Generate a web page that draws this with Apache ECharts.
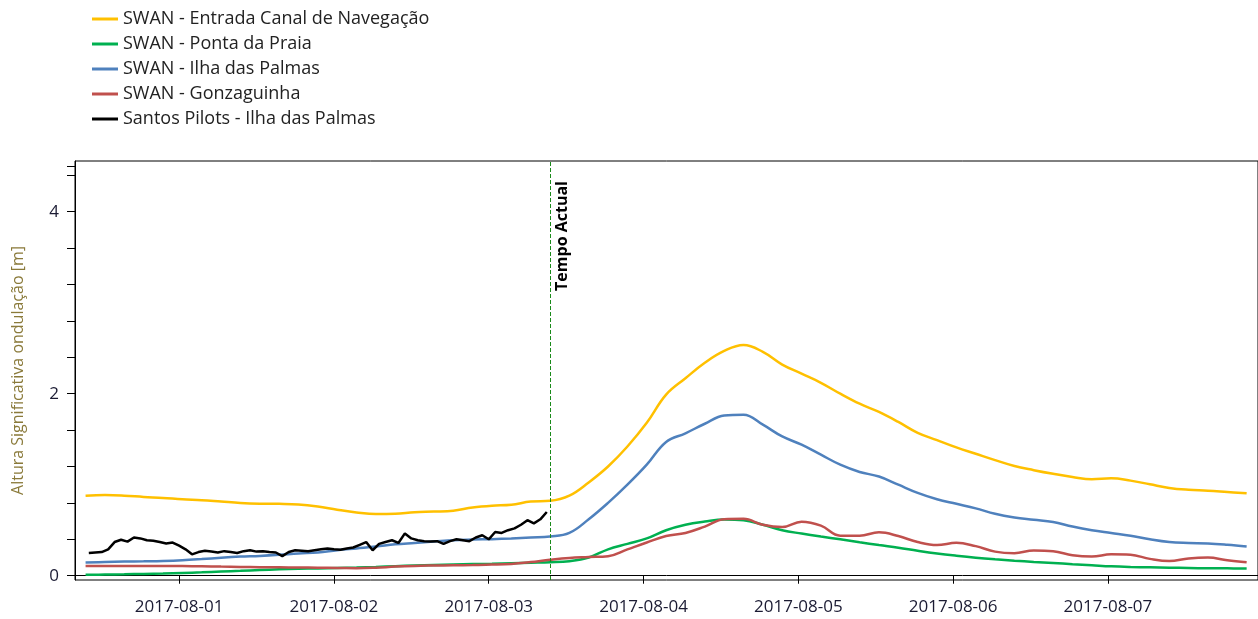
<!DOCTYPE html>
<html>
<head>
<meta charset="utf-8">
<script src="https://cdn.jsdelivr.net/npm/echarts@6/dist/echarts.min.js"></script>
<style>
html,body{margin:0;padding:0;background:#fff;}
#chart{width:1258px;height:619px;}
</style>
</head>
<body>
<div id="chart"></div>
<script>
// ---- Data ----
const seriesNames = [
  'SWAN - Entrada Canal de Navegação',
  'SWAN - Ponta da Praia',
  'SWAN - Ilha das Palmas',
  'SWAN - Gonzaguinha',
  'Santos Pilots - Ilha das Palmas'
];
// SWAN model output: every 3 hours starting 2017-07-31 09:30
const swanStart = [2017, 6, 31, 9, 30];
const swanStepHours = 3;
const entradaValues = [0.88,0.887,0.88,0.866,0.855,0.84,0.83,0.815,0.80,0.792,0.79,0.783,0.76,0.725,0.695,0.677,0.68,0.698,0.705,0.715,0.75,0.77,0.78,0.815,0.823,0.88,1.025,1.2,1.42,1.68,1.99,2.17,2.34,2.47,2.535,2.46,2.32,2.22,2.12,2.0,1.89,1.80,1.69,1.57,1.49,1.41,1.34,1.27,1.205,1.16,1.12,1.085,1.06,1.07,1.045,1.005,0.965,0.945,0.935,0.92,0.905];
const pontaValues = [0.01,0.013,0.016,0.02,0.024,0.03,0.037,0.046,0.054,0.063,0.07,0.076,0.08,0.085,0.09,0.097,0.105,0.112,0.118,0.123,0.128,0.132,0.138,0.143,0.148,0.16,0.2,0.29,0.35,0.41,0.50,0.56,0.595,0.618,0.61,0.56,0.50,0.463,0.43,0.40,0.368,0.337,0.308,0.275,0.245,0.22,0.198,0.18,0.165,0.152,0.14,0.127,0.115,0.103,0.096,0.092,0.088,0.085,0.082,0.081,0.08];
const ilhaValues = [0.145,0.15,0.155,0.158,0.162,0.17,0.183,0.198,0.21,0.218,0.23,0.245,0.255,0.28,0.30,0.32,0.345,0.36,0.375,0.39,0.397,0.402,0.41,0.42,0.43,0.47,0.62,0.80,1.0,1.22,1.47,1.565,1.67,1.76,1.77,1.66,1.53,1.44,1.33,1.22,1.14,1.09,1.0,0.91,0.84,0.79,0.74,0.68,0.64,0.615,0.59,0.54,0.50,0.47,0.44,0.40,0.37,0.36,0.355,0.34,0.32];
const gonzaValues = [0.107,0.107,0.107,0.107,0.107,0.106,0.104,0.10,0.097,0.094,0.092,0.09,0.088,0.085,0.082,0.088,0.1,0.108,0.112,0.115,0.118,0.122,0.13,0.15,0.175,0.195,0.205,0.215,0.29,0.365,0.436,0.47,0.54,0.62,0.625,0.56,0.535,0.593,0.55,0.44,0.44,0.477,0.436,0.37,0.337,0.362,0.325,0.265,0.248,0.278,0.27,0.225,0.21,0.235,0.23,0.185,0.161,0.19,0.2,0.17,0.147];
// Santos Pilots observations: hourly starting 2017-07-31 10:00
const pilotStart = [2017, 6, 31, 10, 0];
const pilotStepHours = 1;
const pilotValues = [0.25,0.255,0.26,0.29,0.37,0.395,0.375,0.42,0.41,0.39,0.385,0.37,0.355,0.365,0.33,0.29,0.235,0.26,0.275,0.265,0.255,0.27,0.26,0.25,0.27,0.28,0.265,0.27,0.26,0.255,0.215,0.26,0.28,0.275,0.27,0.28,0.29,0.30,0.29,0.285,0.30,0.31,0.34,0.37,0.28,0.35,0.37,0.39,0.36,0.465,0.41,0.39,0.38,0.375,0.38,0.35,0.38,0.40,0.39,0.38,0.42,0.445,0.40,0.48,0.47,0.50,0.52,0.56,0.61,0.575,0.62,0.70];
// Axis labels
const dayTickLabels = ['2017-08-01','2017-08-02','2017-08-03','2017-08-04','2017-08-05','2017-08-06','2017-08-07'];
const yLabelValues = [0, 2, 4];
const yTickValues = [0,0.4,0.8,1.2,1.6,2.0,2.4,2.8,3.2,3.6,4.0,4.4];
const tempoActual = [2017, 7, 3, 9, 36];
const tempoLabel = 'Tempo Actual';
const yAxisTitle = 'Altura Significativa ondulação [m]';

// ---- Build ----
const H = 3600 * 1000;
function ts(a) { return new Date(a[0], a[1], a[2], a[3], a[4]).getTime(); }
function series(start, step, vals) {
  const t0 = ts(start);
  return vals.map((v, i) => [t0 + i * step * H, v]);
}
function dayTs(s) { const p = s.split('-').map(Number); return new Date(p[0], p[1] - 1, p[2]).getTime(); }
const dayTicks = dayTickLabels.map(dayTs);
const xMin = dayTicks[0] - 16.14 * H;
const xMax = xMin + 183.4 * H;
const pad = n => (n < 10 ? '0' : '') + n;

const colors = ['#FFC000', '#00B050', '#4F81BD', '#C0504D', '#000000'];
const FONT = 'Open Sans';
const chart = echarts.init(document.getElementById('chart'));
const lineW = 2.5;
chart.setOption({
  animation: false,
  backgroundColor: '#ffffff',
  textStyle: { fontFamily: FONT },
  legend: {
    orient: 'vertical', left: 87, top: 5,
    icon: 'rect', itemWidth: 26, itemHeight: 3, itemGap: 7,
    textStyle: { fontFamily: FONT, fontSize: 18, color: '#222222' },
    data: seriesNames
  },
  grid: { left: 75, right: -2, top: 161, bottom: 39, show: true, borderColor: '#000', borderWidth: 1 },
  xAxis: {
    type: 'value', min: xMin, max: xMax,
    axisLine: { lineStyle: { color: '#000', width: 1 } },
    axisTick: { show: true, length: 8, lineStyle: { color: '#000' }, customValues: dayTicks },
    axisLabel: {
      customValues: dayTicks, margin: 19, fontSize: 17, color: '#1b1b33', fontFamily: FONT,
      formatter: v => { const d = new Date(v); return d.getFullYear() + '-' + pad(d.getMonth() + 1) + '-' + pad(d.getDate()); }
    },
    splitLine: { show: false }
  },
  yAxis: {
    type: 'value', min: -0.047, max: 4.557,
    name: yAxisTitle, nameLocation: 'middle', nameGap: 49,
    nameTextStyle: { color: '#8a7a3a', fontSize: 16, fontFamily: FONT },
    axisLine: { show: true, lineStyle: { color: '#000', width: 1 } },
    axisTick: { show: true, length: 8, lineStyle: { color: '#000' }, customValues: yTickValues.concat([4.5]) },
    axisLabel: { customValues: yLabelValues, margin: 16, fontSize: 17, color: '#1b1b33', fontFamily: FONT },
    splitLine: { show: false }
  },
  series: [
    { name: seriesNames[0], type: 'line', smooth: 0.4, symbol: 'none', data: series(swanStart, swanStepHours, entradaValues), lineStyle: { color: colors[0], width: lineW }, itemStyle: { color: colors[0] },
      markLine: {
        silent: true, symbol: 'none',
        lineStyle: { color: '#1a8a1a', type: [4, 2], width: 1 },
        label: { show: true, formatter: tempoLabel, position: 'insideEndBottom', distance: [20, 4], color: '#000', fontWeight: 'bold', fontSize: 16, fontFamily: FONT },
        data: [{ xAxis: ts(tempoActual) }]
      } },
    { name: seriesNames[1], type: 'line', smooth: 0.4, symbol: 'none', data: series(swanStart, swanStepHours, pontaValues), lineStyle: { color: colors[1], width: lineW }, itemStyle: { color: colors[1] } },
    { name: seriesNames[2], type: 'line', smooth: 0.4, symbol: 'none', data: series(swanStart, swanStepHours, ilhaValues), lineStyle: { color: colors[2], width: lineW }, itemStyle: { color: colors[2] } },
    { name: seriesNames[3], type: 'line', smooth: 0.4, symbol: 'none', data: series(swanStart, swanStepHours, gonzaValues), lineStyle: { color: colors[3], width: lineW }, itemStyle: { color: colors[3] } },
    { name: seriesNames[4], type: 'line', smooth: false, symbol: 'none', data: series(pilotStart, pilotStepHours, pilotValues), lineStyle: { color: colors[4], width: lineW }, itemStyle: { color: colors[4] } }
  ]
});
</script>
</body>
</html>
